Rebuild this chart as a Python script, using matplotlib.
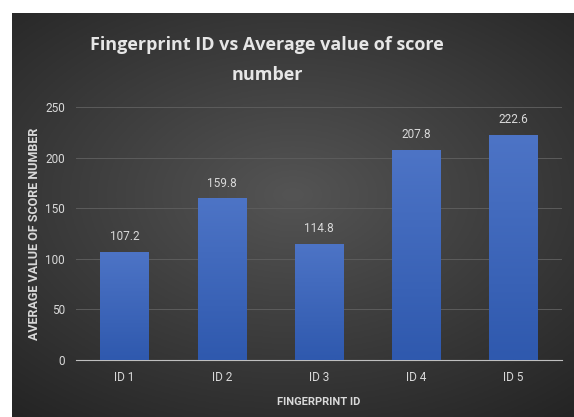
import matplotlib.pyplot as plt
import numpy as np
from matplotlib.colors import LinearSegmentedColormap

# data
ids = ['ID 1', 'ID 2', 'ID 3', 'ID 4', 'ID 5']
avg_score = [107.2, 159.8, 114.8, 207.8, 222.6]

font = 'Roboto'

fig = plt.figure(figsize=(5.74, 4.17), dpi=100)
fig.patch.set_facecolor('white')

# dark radial gradient background panel
bg = fig.add_axes([12/574, 0, 1 - 12/574, 1 - 13/417])
yy, xx = np.mgrid[-1:1:200j, -1:1:300j]
r = np.sqrt((xx * 0.85) ** 2 + ((yy + 0.1) * 0.95) ** 2)
shade = np.clip(0.33 - 0.14 * r, 0.12, 1)
bg.imshow(np.dstack([shade] * 3), aspect='auto', extent=[0, 1, 0, 1])
bg.set_axis_off()

ax = fig.add_axes([76/574, 1 - 360/417, (562 - 76)/574, (360 - 107)/417])
ax.set_facecolor('none')
x = np.arange(len(ids))
bars = ax.bar(x, avg_score, width=0.5, color='#3d66ba', zorder=3)

# bar gradient
bar_cmap = LinearSegmentedColormap.from_list('b', ['#2f59ae', '#4d74c6'])
grad = np.linspace(0, 1, 100).reshape(-1, 1)
for b in bars:
    bx, w, h = b.get_x(), b.get_width(), b.get_height()
    im = ax.imshow(grad, cmap=bar_cmap, extent=[bx, bx + w, 0, h], origin='lower',
                   aspect='auto', zorder=3)
    im.set_clip_path(b)

for xi, v in zip(x, avg_score):
    ax.text(xi, v + 15, f'{v}', ha='center', va='center', color='#d9d9d9',
            fontsize=8.5, family=font)

ax.set_xlim(-0.5, 4.5)
ax.set_ylim(0, 250)
ax.set_yticks([0, 50, 100, 150, 200, 250])
ax.set_xticks(x)
ax.set_xticklabels(ids)
ax.yaxis.grid(True, color='#5c5c5c', linewidth=0.7, zorder=0)
ax.set_axisbelow(True)
for s in ['top', 'right', 'left']:
    ax.spines[s].set_visible(False)
ax.spines['bottom'].set_color('#bfbfbf')
ax.tick_params(length=0, colors='#d9d9d9', labelsize=8.5, pad=8)
for lbl in ax.get_xticklabels() + ax.get_yticklabels():
    lbl.set_family(font)

ax.set_xlabel('FINGERPRINT ID', color='#d9d9d9', fontsize=8, fontweight='bold',
              family=font, labelpad=9)
ax.set_ylabel('AVERAGE VALUE OF SCORE NUMBER', color='#d9d9d9', fontsize=9,
              fontweight='bold', family=font, labelpad=3)

fig.text(267/574, 1 - 60/417, 'Fingerprint ID vs Average value of score\nnumber',
         ha='center', va='center', color='#e6e6e6', fontsize=13, fontweight='bold',
         family='Open Sans', linespacing=1.8)

fig.savefig('out.png', dpi=100)
